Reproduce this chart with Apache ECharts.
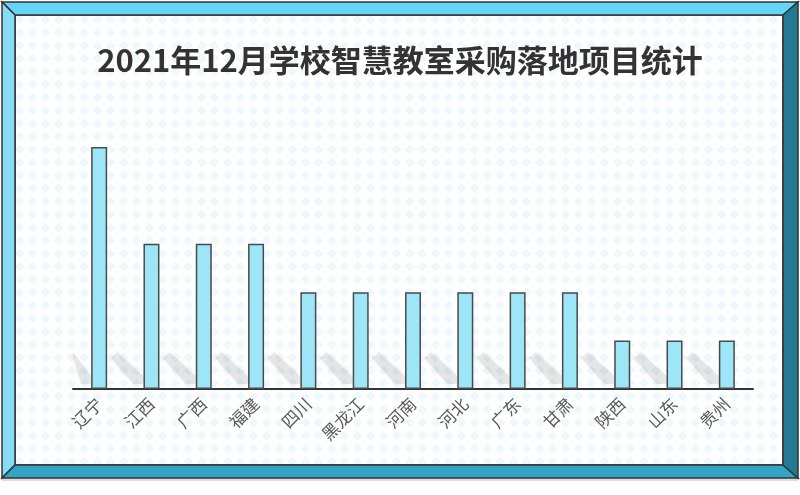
<!DOCTYPE html>
<html>
<head>
<meta charset="utf-8">
<script src="https://cdn.jsdelivr.net/npm/echarts@6/dist/echarts.min.js"></script>
<style>html,body{margin:0;padding:0;background:#fff}#c{width:800px;height:495px}</style>
</head>
<body>
<div id="c"></div>
<script>
const titleText = '2021年12月学校智慧教室采购落地项目统计';
const provinces = ['辽宁','江西','广西','福建','四川','黑龙江','河南','河北','广东','甘肃','陕西','山东','贵州'];
const projectCounts = [5,3,3,3,2,2,2,2,2,2,1,1,1];

const pat = document.createElement('canvas');
pat.width = 13; pat.height = 13;
const g = pat.getContext('2d');
g.fillStyle = '#ffffff'; g.fillRect(0,0,13,13);
g.fillStyle = '#eef8fd';
g.beginPath(); g.moveTo(6.5,1.5); g.lineTo(11.5,6.5); g.lineTo(6.5,11.5); g.lineTo(1.5,6.5); g.closePath(); g.fill();

const chart = echarts.init(document.getElementById('c'));
const ol = 2, ot = 2, or_ = 798, ob = 478, il = 15, it = 15, ir = 783, ib = 465;
chart.setOption({
  animation: false,
  title: {
    text: titleText, left: 'center', top: 40,
    textStyle: {fontFamily: 'Noto Sans CJK SC', fontSize: 31, fontWeight: 'bold', color: '#333'}
  },
  graphic: [
    {type:'rect', z:-10, shape:{x:il,y:it,width:ir-il,height:ib-it}, style:{fill:{image:pat, repeat:'repeat'}, stroke:'#333', lineWidth:1.5}},
    {type:'polygon', z:-9, shape:{points:[[ol,ot],[or_,ot],[ir,it],[il,it]]}, style:{fill:'#66d4f6', stroke:'#333', lineWidth:1.5}},
    {type:'polygon', z:-9, shape:{points:[[ol,ot],[il,it],[il,ib],[ol,ob]]}, style:{fill:'#86dcf7', stroke:'#333', lineWidth:1.5}},
    {type:'polygon', z:-9, shape:{points:[[ol,ob],[il,ib],[ir,ib],[or_,ob]]}, style:{fill:'#35a2c8', stroke:'#333', lineWidth:1.5}},
    {type:'polygon', z:-9, shape:{points:[[or_,ot],[or_,ob],[ir,ib],[ir,it]]}, style:{fill:'#237a92', stroke:'#333', lineWidth:1.5}},
    {type:'rect', z:-11, shape:{x:2,y:478,width:796,height:3}, style:{fill:'#dcdcdc'}}
  ],
  grid: {left: 73, right: 47, top: 147, bottom: 106},
  xAxis: {
    type: 'category', data: provinces,
    axisLine: {lineStyle: {color: '#333', width: 2}},
    axisTick: {show: false},
    axisLabel: {rotate: 45, margin: 12, fontSize: 17, color: '#5a5a5a', fontFamily: 'Noto Sans CJK SC', interval: 0}
  },
  yAxis: {type: 'value', min: 0, max: 5, show: false, splitLine: {show: false}},
  series: [
    {
      type: 'custom', z: 1, silent: true,
      data: projectCounts.map((v, i) => [i, v]),
      renderItem: function (params, api) {
        const p = api.coord([api.value(0), 0]);
        const cs = params.coordSys;
        const x0 = p[0] - 8, b = p[1] - 1;
        const pts = [[x0, b-4],[x0, b-12],[x0-26, b-36],[x0-33, b-30],[x0-10, b-4]].map(q => [Math.max(q[0], cs.x), q[1]]);
        return {
          type: 'polygon', shape: {points: pts},
          style: {fill: 'rgba(0,0,0,0.08)', shadowBlur: 10, shadowColor: 'rgba(0,0,0,0.45)'}
        };
      }
    },
    {
      type: 'bar', z: 3, data: projectCounts, barWidth: 16,
      itemStyle: {color: '#9de6f7', borderColor: '#4a4a4a', borderWidth: 1.5}
    }
  ]
});
</script>
</body>
</html>
